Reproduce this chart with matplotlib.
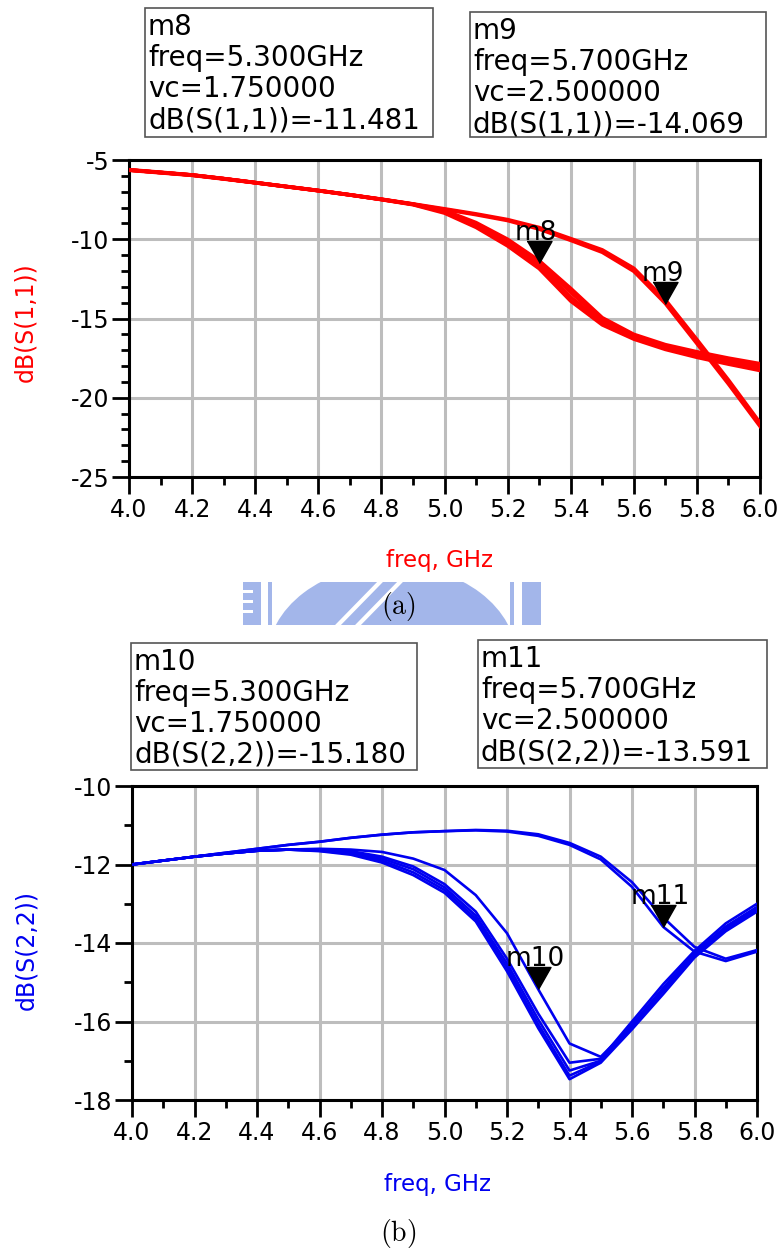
import matplotlib
matplotlib.use("Agg")
import matplotlib.pyplot as plt
from matplotlib.patches import Rectangle, Ellipse
from matplotlib.ticker import MultipleLocator, FormatStrFormatter

# ---------------- data ----------------
freq_ghz = [4.0, 4.1, 4.2, 4.3, 4.4, 4.5, 4.6, 4.7, 4.8, 4.9, 5.0,
            5.1, 5.2, 5.3, 5.4, 5.5, 5.6, 5.7, 5.8, 5.9, 6.0]

# dB(S(1,1)) curves (vc sweep)
s11_high_1 = [-5.61, -5.77, -5.94, -6.17, -6.42, -6.67, -6.92, -7.19, -7.47, -7.77, -8.08,
              -8.40, -8.76, -9.26, -9.96, -10.67, -11.83, -13.82, -16.33, -18.88, -21.58]
s11_high_2 = [-5.65, -5.81, -5.97, -6.20, -6.44, -6.69, -6.94, -7.21, -7.49, -7.79, -8.12,
              -8.45, -8.82, -9.36, -10.07, -10.82, -12.02, -14.05, -16.58, -19.13, -21.80]
s11_low_1 = [-5.63, -5.79, -5.95, -6.18, -6.43, -6.68, -6.93, -7.20, -7.48, -7.78, -8.18,
             -8.95, -10.00, -11.35, -13.10, -14.95, -16.00, -16.65, -17.10, -17.50, -17.85]
s11_low_2 = [-5.63, -5.79, -5.95, -6.18, -6.43, -6.68, -6.93, -7.20, -7.48, -7.79, -8.22,
             -9.05, -10.15, -11.48, -13.35, -15.10, -16.10, -16.75, -17.22, -17.62, -17.98]
s11_low_3 = [-5.63, -5.79, -5.95, -6.18, -6.43, -6.68, -6.93, -7.20, -7.49, -7.80, -8.28,
             -9.15, -10.30, -11.68, -13.65, -15.25, -16.20, -16.85, -17.35, -17.75, -18.12]
s11_low_4 = [-5.63, -5.79, -5.95, -6.18, -6.43, -6.68, -6.93, -7.20, -7.50, -7.82, -8.35,
             -9.25, -10.42, -11.85, -13.90, -15.40, -16.30, -16.95, -17.45, -17.88, -18.28]

# dB(S(2,2)) curves (vc sweep)
s22_a_1 = [-12.00, -11.90, -11.80, -11.70, -11.60, -11.50, -11.42, -11.32, -11.24, -11.18, -11.15,
           -11.12, -11.14, -11.23, -11.45, -11.80, -12.45, -13.35, -14.10, -14.40, -14.18]
s22_a_2 = [-12.00, -11.90, -11.80, -11.70, -11.60, -11.50, -11.42, -11.32, -11.24, -11.18, -11.15,
           -11.13, -11.16, -11.27, -11.50, -11.87, -12.57, -13.59, -14.22, -14.46, -14.22]
s22_b_0 = [-12.00, -11.90, -11.80, -11.72, -11.65, -11.62, -11.60, -11.62, -11.68, -11.85, -12.14,
           -12.78, -13.75, -15.18, -16.56, -16.90, -16.10, -15.15, -14.25, -13.60, -13.10]
s22_b_1 = [-12.00, -11.90, -11.80, -11.72, -11.65, -11.62, -11.62, -11.66, -11.80, -12.05, -12.50,
           -13.20, -14.40, -15.80, -17.05, -16.95, -16.00, -15.05, -14.20, -13.50, -13.00]
s22_b_2 = [-12.00, -11.90, -11.80, -11.72, -11.65, -11.62, -11.64, -11.70, -11.85, -12.12, -12.58,
           -13.30, -14.52, -15.95, -17.25, -17.00, -16.08, -15.15, -14.27, -13.58, -13.08]
s22_b_3 = [-12.00, -11.90, -11.80, -11.72, -11.65, -11.62, -11.65, -11.72, -11.90, -12.20, -12.65,
           -13.38, -14.62, -16.07, -17.38, -17.02, -16.15, -15.22, -14.32, -13.65, -13.15]
s22_b_4 = [-12.00, -11.90, -11.80, -11.72, -11.65, -11.62, -11.66, -11.75, -11.95, -12.27, -12.72,
           -13.45, -14.72, -16.17, -17.47, -17.05, -16.20, -15.30, -14.37, -13.70, -13.20]

# markers
s11_marker_names = ["m8", "m9"]
s11_marker_freq = [5.3, 5.7]
s11_marker_val = [-11.481, -14.069]
s11_marker_vc = ["1.750000", "2.500000"]
s22_marker_names = ["m10", "m11"]
s22_marker_freq = [5.3, 5.7]
s22_marker_val = [-15.180, -13.591]
s22_marker_vc = ["1.750000", "2.500000"]

# ---------------- styling ----------------
plt.rcParams["font.family"] = ["DejaVu Sans"]
plt.rcParams["axes.unicode_minus"] = False
plt.rcParams["mathtext.fontset"] = "cm"

W, H = 778, 1251
RED = "#FF0000"
BLUE = "#0000F0"
GRID = "#BDBDBD"

fig = plt.figure(figsize=(W / 100, H / 100), dpi=100)


def fx(x):
    return x / W


def fy(y):
    return 1 - y / H


def px_axes(l, t, r, b):
    return fig.add_axes([fx(l), fy(b), (r - l) / W, (b - t) / H])


tri = [(-1, 1.76), (1, 1.76), (0, 0)]


def style_axes(ax, ymaj):
    ax.set_xlim(4.0, 6.0)
    ax.xaxis.set_major_locator(MultipleLocator(0.2))
    ax.xaxis.set_minor_locator(MultipleLocator(0.1))
    ax.xaxis.set_major_formatter(FormatStrFormatter("%.1f"))
    ax.yaxis.set_major_locator(MultipleLocator(ymaj))
    ax.yaxis.set_minor_locator(MultipleLocator(1))
    ax.yaxis.set_major_formatter(FormatStrFormatter("%d"))
    ax.tick_params(which="major", direction="out", length=12, width=2.0,
                   labelsize=17, pad=3, color="black")
    ax.tick_params(which="minor", direction="out", length=6, width=2.0, color="black")
    ax.tick_params(axis="y", which="major", pad=2)
    ax.grid(True, which="major", color=GRID, lw=2.2)
    ax.set_axisbelow(True)
    for s in ax.spines.values():
        s.set_linewidth(2.2)
        s.set_color("black")


def marker_box(l, t, r, b, lines):
    fig.patches.append(Rectangle((fx(l), fy(b)), (r - l) / W, (b - t) / H,
                                 transform=fig.transFigure, fill=False,
                                 edgecolor="#555555", lw=1.2))
    for i, s in enumerate(lines):
        fig.text(fx(l + 3), fy(t + 27 + 31 * i), s, fontsize=20,
                 va="baseline", ha="left", color="black")


def draw_markers(ax, names, fr, vals):
    for n, f, v in zip(names, fr, vals):
        ax.plot([f], [v], marker=tri, markersize=31.7, color="black",
                linestyle="none", zorder=6, clip_on=False)
        ax.annotate(n, (f, v), xytext=(-2, 16.5), textcoords="offset points",
                    ha="center", va="baseline", fontsize=19, zorder=7)


# ---------------- (a) S11 ----------------
ax1 = px_axes(129, 160, 760, 477)
ax1.set_ylim(-25, -5)
style_axes(ax1, 5)
for curve in [s11_high_1, s11_high_2, s11_low_1, s11_low_2, s11_low_3, s11_low_4]:
    ax1.plot(freq_ghz, curve, color=RED, lw=2.6, zorder=3)
draw_markers(ax1, s11_marker_names, s11_marker_freq, s11_marker_val)

fig.text(fx(25), fy(322), "dB(S(1,1))", rotation=90, color=RED, fontsize=17,
         ha="center", va="center")
fig.text(fx(439), fy(560), "freq, GHz", color=RED, fontsize=16.5,
         ha="center", va="center")

marker_box(145, 8, 433, 137, [s11_marker_names[0],
                              "freq=%.3fGHz" % s11_marker_freq[0],
                              "vc=" + s11_marker_vc[0],
                              "dB(S(1,1))=%.3f" % s11_marker_val[0]])
marker_box(470, 12, 766, 137, [s11_marker_names[1],
                               "freq=%.3fGHz" % s11_marker_freq[1],
                               "vc=" + s11_marker_vc[1],
                               "dB(S(1,1))=%.3f" % s11_marker_val[1]])

# faint watermark behind (a)
WMC = "#A3B6EA"
wm = fig.add_axes([fx(243), fy(625), (541 - 243) / W, (625 - 582) / H])
wm.set_xlim(243, 541)
wm.set_ylim(625, 582)
wm.axis("off")
wm.add_patch(Ellipse((392, 660), 250, 190, color=WMC, lw=0))
wm.add_patch(Rectangle((243, 582), 18, 43, color=WMC, lw=0))
wm.add_patch(Rectangle((268, 582), 4, 43, color=WMC, lw=0))
wm.add_patch(Rectangle((522, 582), 19, 43, color=WMC, lw=0))
wm.add_patch(Rectangle((510, 582), 4, 43, color=WMC, lw=0))
for yy in [590, 600, 610]:
    wm.add_patch(Rectangle((243, yy), 10, 3, color="white", lw=0))
wm.plot([338, 380], [625, 582], color="white", lw=3)
wm.plot([358, 400], [625, 582], color="white", lw=3)

fig.text(fx(398), fy(607), r"$\mathrm{(a)}$", fontsize=20, ha="center", va="center")

# ---------------- (b) S22 ----------------
ax2 = px_axes(132, 786, 757, 1100)
ax2.set_ylim(-18, -10)
style_axes(ax2, 2)
for curve in [s22_a_1, s22_a_2, s22_b_0, s22_b_1, s22_b_2, s22_b_3, s22_b_4]:
    ax2.plot(freq_ghz, curve, color=BLUE, lw=1.9, zorder=3)
draw_markers(ax2, s22_marker_names, s22_marker_freq, s22_marker_val)

fig.text(fx(26), fy(950), "dB(S(2,2))", rotation=90, color=BLUE, fontsize=17,
         ha="center", va="center")
fig.text(fx(438), fy(1185), "freq, GHz", color=BLUE, fontsize=16.5,
         ha="center", va="center")

marker_box(131, 643, 417, 770, [s22_marker_names[0],
                                "freq=%.3fGHz" % s22_marker_freq[0],
                                "vc=" + s22_marker_vc[0],
                                "dB(S(2,2))=%.3f" % s22_marker_val[0]])
marker_box(478, 640, 767, 768, [s22_marker_names[1],
                                "freq=%.3fGHz" % s22_marker_freq[1],
                                "vc=" + s22_marker_vc[1],
                                "dB(S(2,2))=%.3f" % s22_marker_val[1]])

fig.text(fx(398), fy(1234), r"$\mathrm{(b)}$", fontsize=20, ha="center", va="center")

fig.savefig("out.png", dpi=100)
